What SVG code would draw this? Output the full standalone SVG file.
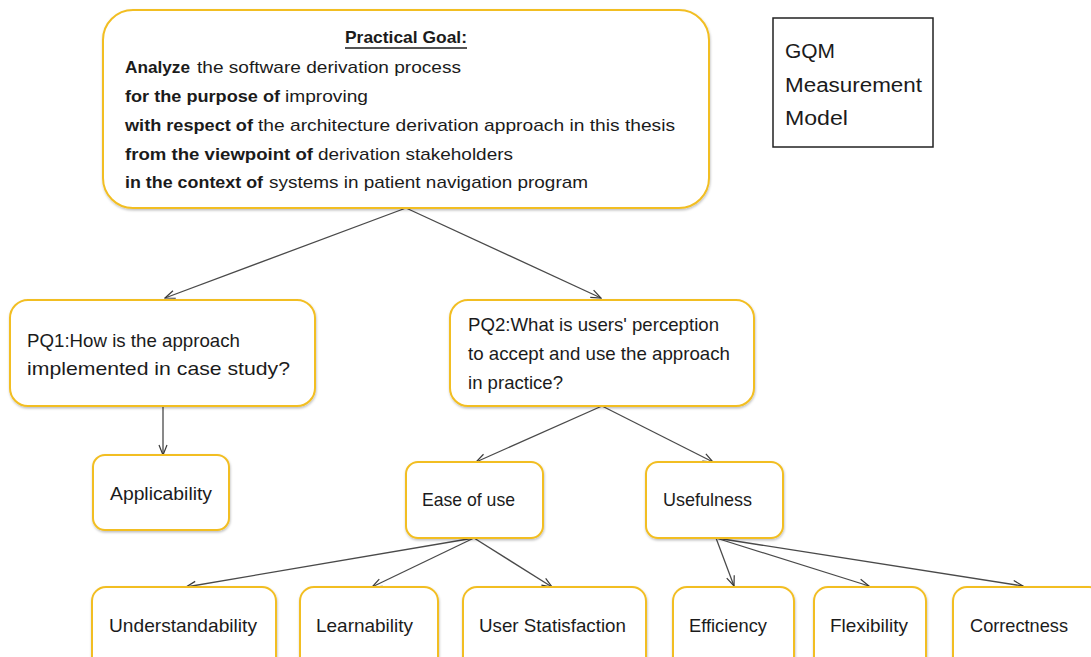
<svg xmlns="http://www.w3.org/2000/svg" width="1091" height="657" viewBox="0 0 1091 657">
<defs>
<style>
.box{fill:#fff;stroke:#F2BE22;stroke-width:2;filter:url(#sh)}
.t{font-family:"Liberation Sans",Arial,sans-serif;font-size:17px;fill:#1b1b1b}
.n{font-size:19px}
.b{font-weight:bold}
.c{fill:none;stroke:#4a4a4a;stroke-width:1.3}
</style>
<filter id="sh" x="-5%" y="-5%" width="110%" height="120%">
<feDropShadow dx="0.5" dy="1.5" stdDeviation="1" flood-color="#000" flood-opacity="0.25"/>
</filter>
<marker id="arr" viewBox="0 0 12 10" refX="11" refY="5" markerWidth="12" markerHeight="10" markerUnits="userSpaceOnUse" orient="auto">
<path d="M1,1 L11,5 L1,9" fill="none" stroke="#3a3a3a" stroke-width="1.2"/>
</marker>
</defs>
<rect width="1091" height="657" fill="#fff"/>

<g id="connectors" class="c" marker-end="url(#arr)">
<line x1="406" y1="208" x2="165" y2="298"/>
<line x1="406" y1="208" x2="601" y2="298"/>
<line x1="163" y1="406" x2="163" y2="455"/>
<line x1="602" y1="406" x2="476" y2="462"/>
<line x1="602" y1="406" x2="713" y2="462"/>
<line x1="474" y1="538" x2="186" y2="587"/>
<line x1="474" y1="538" x2="372" y2="587"/>
<line x1="474" y1="538" x2="552" y2="587"/>
<line x1="716" y1="538" x2="734" y2="586"/>
<line x1="716" y1="538" x2="869" y2="586"/>
<line x1="716" y1="538" x2="1023" y2="586"/>
</g>

<g id="goal">
<rect class="box" x="103" y="10" width="606" height="198" rx="30"/>
<text class="t b" x="345" y="43" textLength="122" lengthAdjust="spacingAndGlyphs">Practical Goal:</text>
<line x1="345" y1="48" x2="467" y2="48" stroke="#1b1b1b" stroke-width="1.3"/>
<text class="t b" x="125" y="73" textLength="65" lengthAdjust="spacingAndGlyphs">Analyze</text>
<text class="t" x="197" y="73" textLength="264" lengthAdjust="spacingAndGlyphs">the software derivation process</text>
<text class="t b" x="125" y="102" textLength="155" lengthAdjust="spacingAndGlyphs">for the purpose of</text>
<text class="t" x="285" y="102" textLength="83" lengthAdjust="spacingAndGlyphs">improving</text>
<text class="t b" x="125" y="131" textLength="128" lengthAdjust="spacingAndGlyphs">with respect of</text>
<text class="t" x="258" y="131" textLength="417" lengthAdjust="spacingAndGlyphs">the architecture derivation approach in this thesis</text>
<text class="t b" x="125" y="160" textLength="188" lengthAdjust="spacingAndGlyphs">from the viewpoint of</text>
<text class="t" x="318" y="160" textLength="195" lengthAdjust="spacingAndGlyphs">derivation stakeholders</text>
<text class="t b" x="125" y="188" textLength="138" lengthAdjust="spacingAndGlyphs">in the context of</text>
<text class="t" x="269" y="188" textLength="319" lengthAdjust="spacingAndGlyphs">systems in patient navigation program</text>
</g>

<g id="gqm">
<rect x="773" y="18" width="160" height="129" fill="#fff" stroke="#222" stroke-width="1.5"/>
<text class="t" style="font-size:19.5px" x="785" y="58" textLength="50" lengthAdjust="spacingAndGlyphs">GQM</text>
<text class="t" style="font-size:19.5px" x="785" y="92" textLength="137" lengthAdjust="spacingAndGlyphs">Measurement</text>
<text class="t" style="font-size:19.5px" x="785" y="125" textLength="63" lengthAdjust="spacingAndGlyphs">Model</text>
</g>

<g id="pq1">
<rect class="box" x="10" y="300" width="305" height="106" rx="18"/>
<text class="t n" x="27" y="347" textLength="213" lengthAdjust="spacingAndGlyphs">PQ1:How is the approach</text>
<text class="t n" x="27" y="375" textLength="263" lengthAdjust="spacingAndGlyphs">implemented in case study?</text>
</g>

<g id="pq2">
<rect class="box" x="450" y="300" width="304" height="106" rx="18"/>
<text class="t n" x="468" y="331" textLength="251" lengthAdjust="spacingAndGlyphs">PQ2:What is users' perception</text>
<text class="t n" x="468" y="360" textLength="262" lengthAdjust="spacingAndGlyphs">to accept and use the approach</text>
<text class="t n" x="468" y="389" textLength="95" lengthAdjust="spacingAndGlyphs">in practice?</text>
</g>

<g id="applicability">
<rect class="box" x="93" y="455" width="136" height="75" rx="12"/>
<text class="t n" x="110" y="500" textLength="102" lengthAdjust="spacingAndGlyphs">Applicability</text>
</g>

<g id="ease">
<rect class="box" x="406" y="462" width="137" height="76" rx="12"/>
<text class="t n" x="422" y="506" textLength="93" lengthAdjust="spacingAndGlyphs">Ease of use</text>
</g>

<g id="usefulness">
<rect class="box" x="646" y="462" width="137" height="76" rx="12"/>
<text class="t n" x="663" y="506" textLength="89" lengthAdjust="spacingAndGlyphs">Usefulness</text>
</g>

<g id="understandability">
<rect class="box" x="92" y="587" width="184" height="100" rx="14"/>
<text class="t n" x="109" y="632" textLength="148" lengthAdjust="spacingAndGlyphs">Understandability</text>
</g>

<g id="learnability">
<rect class="box" x="300" y="587" width="138" height="100" rx="14"/>
<text class="t n" x="316" y="632" textLength="97" lengthAdjust="spacingAndGlyphs">Learnability</text>
</g>

<g id="usersatisfaction">
<rect class="box" x="463" y="587" width="183" height="100" rx="14"/>
<text class="t n" x="479" y="632" textLength="147" lengthAdjust="spacingAndGlyphs">User Statisfaction</text>
</g>

<g id="efficiency">
<rect class="box" x="673" y="587" width="121" height="100" rx="14"/>
<text class="t n" x="689" y="632" textLength="78" lengthAdjust="spacingAndGlyphs">Efficiency</text>
</g>

<g id="flexibility">
<rect class="box" x="814" y="587" width="112" height="100" rx="14"/>
<text class="t n" x="830" y="632" textLength="78" lengthAdjust="spacingAndGlyphs">Flexibility</text>
</g>

<g id="correctness">
<rect class="box" x="953" y="587" width="150" height="100" rx="14"/>
<text class="t n" x="970" y="632" textLength="98" lengthAdjust="spacingAndGlyphs">Correctness</text>
</g>
</svg>
